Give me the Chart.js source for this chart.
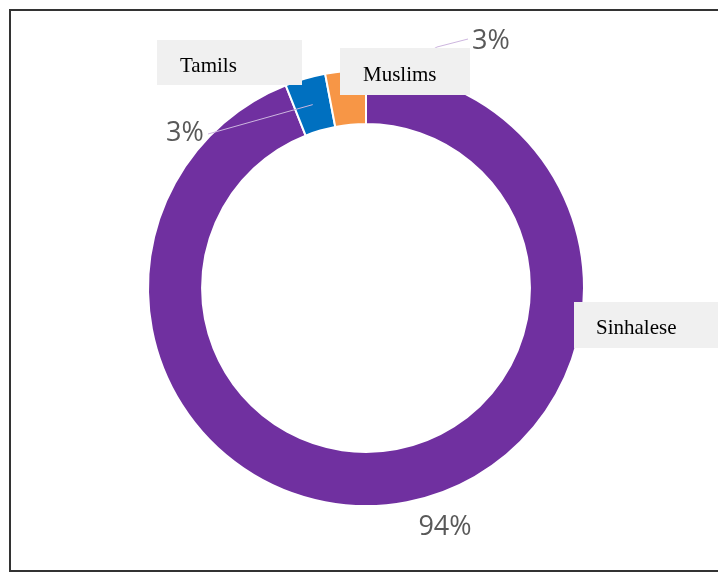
<!DOCTYPE html>
<html>
<head>
<meta charset="utf-8">
<script src="https://cdn.jsdelivr.net/npm/chart.js@4"></script>
<style>
  html, body { margin: 0; padding: 0; background: #fff; }
  canvas { display: block; }
</style>
</head>
<body>
<canvas id="c" width="718" height="572"></canvas>
<script>
// ---- data ----
const categories = ['Sinhalese', 'Tamils', 'Muslims'];
const shares = [94, 3, 3];
const percentLabels = shares.map(v => v + '%');

// ---- annotation layout (positions only) ----
const catBoxes = {
  Tamils:    { x: 157, y: 40, w: 145, h: 45, tx: 180, ty: 72 },
  Muslims:   { x: 340, y: 48, w: 130, h: 47, tx: 363, ty: 81 },
  Sinhalese: { x: 574, y: 302, w: 150, h: 46, tx: 596, ty: 334 }
};
const pctPos = [
  { x: 445, y: 527, leader: null },
  { x: 185, y: 133, leader: [[208, 134]] },
  { x: 491, y: 41, leader: [[437, 47], [468, 39]] }
];

const annot = {
  id: 'annot',
  beforeDraw(chart) {
    const ctx = chart.ctx;
    ctx.save();
    ctx.fillStyle = '#fff';
    ctx.fillRect(0, 0, chart.width, chart.height);
    ctx.restore();
  },
  afterDraw(chart) {
    const ctx = chart.ctx;
    const meta = chart.getDatasetMeta(0);
    ctx.save();
    // leader lines
    ctx.lineWidth = 1;
    ctx.strokeStyle = '#cdb6df';
    pctPos.forEach((p, i) => {
      if (!p.leader) return;
      const mid = meta.data[i].getCenterPoint();
      ctx.beginPath();
      if (p.leader.length === 1) {
        ctx.moveTo(mid.x, mid.y);
        ctx.lineTo(p.leader[0][0], p.leader[0][1]);
      } else {
        // segment hidden behind the category box, emerging at its top edge
        const a = p.leader[0];
        const t = 0.75;
        ctx.moveTo(mid.x + (a[0] - mid.x) * t, mid.y + (a[1] - mid.y) * t);
        ctx.lineTo(a[0], a[1]);
        ctx.lineTo(p.leader[1][0], p.leader[1][1]);
      }
      ctx.stroke();
    });
    // category boxes
    categories.forEach(c => {
      const b = catBoxes[c];
      ctx.fillStyle = '#f0f0f0';
      ctx.fillRect(b.x, b.y, b.w, b.h);
      ctx.fillStyle = '#000';
      ctx.font = '21px "Liberation Serif", "Times New Roman", serif';
      ctx.textAlign = 'left';
      ctx.textBaseline = 'alphabetic';
      ctx.fillText(c, b.tx, b.ty);
    });
    // percent labels
    ctx.fillStyle = '#595959';
    ctx.font = '27px "Open Sans", "DejaVu Sans", sans-serif';
    ctx.textAlign = 'center';
    ctx.textBaseline = 'middle';
    percentLabels.forEach((t, i) => {
      ctx.fillText(t, pctPos[i].x, pctPos[i].y);
    });
    // frame
    ctx.strokeStyle = '#333';
    ctx.lineWidth = 2;
    ctx.beginPath();
    ctx.moveTo(760, 10);
    ctx.lineTo(10, 10);
    ctx.lineTo(10, 571);
    ctx.lineTo(760, 571);
    ctx.stroke();
    ctx.restore();
  }
};

new Chart(document.getElementById('c'), {
  type: 'doughnut',
  data: {
    labels: categories,
    datasets: [{
      data: shares,
      backgroundColor: ['#7030A0', '#0070C0', '#F79646'],
      borderColor: '#ffffff',
      borderWidth: 2
    }]
  },
  options: {
    responsive: false,
    animation: false,
    radius: 218,
    cutout: '75.2%',
    layout: { padding: { left: 14, top: 4, right: 0, bottom: 0 } },
    plugins: {
      legend: { display: false },
      tooltip: { enabled: false }
    }
  },
  plugins: [annot]
});
</script>
</body>
</html>
